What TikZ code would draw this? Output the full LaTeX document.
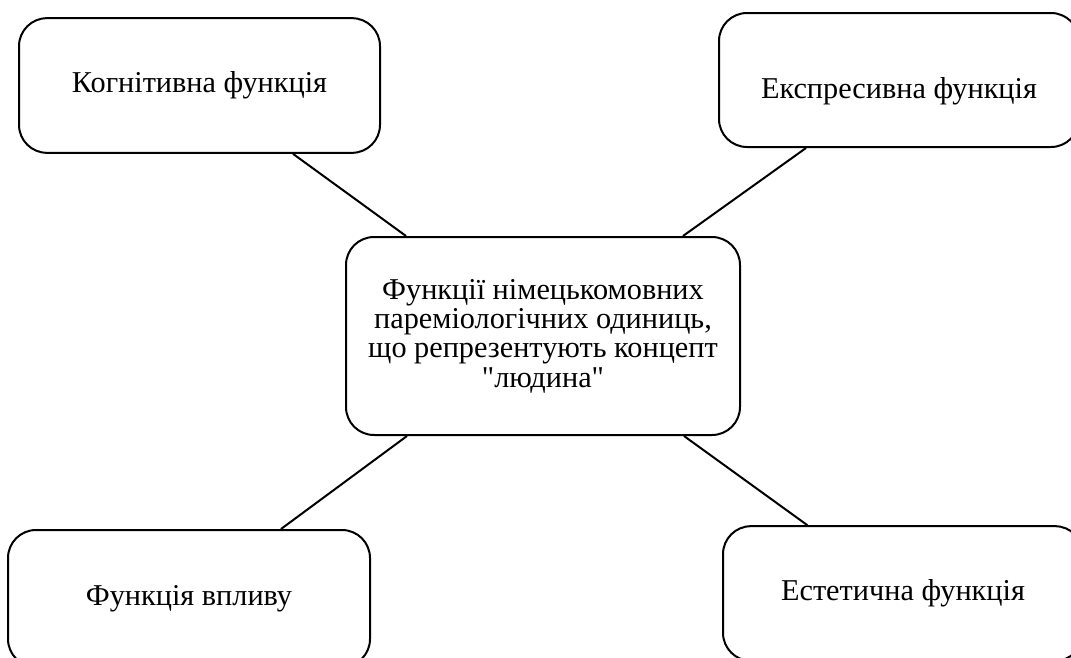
\documentclass[tikz,border=0pt]{standalone}
\usepackage{fontspec}
\setmainfont{Liberation Serif}
\begin{document}
\begin{tikzpicture}[x=0.75pt, y=-0.75pt, line width=1.5pt, font=\fontsize{22.7}{22}\selectfont,
	box/.style={draw, rounded corners=21pt, align=center, minimum width=270pt, minimum height=101pt, inner sep=0pt}]
	\useasboundingbox (0,0) rectangle (1071,657);
	\clip (0,0) rectangle (1071,657);
	\node[box, minimum width=295.5pt, minimum height=148.5pt] (c) at (543,336) {Функції німецькомовних\\пареміологічних одиниць,\\що репрезентують концепт\\\textquotedbl людина\textquotedbl};
	\node[box, minimum width=270.75pt] (tl) at (199.5,85.5) {Когнітивна функція};
	\node[box, minimum height=100.5pt] (tr) at (899,80) {\raisebox{-8.25pt}[\height][\depth]{Експресивна функція}};
	\node[box, minimum width=271.5pt, minimum height=102.75pt] (bl) at (189,598.5) {Функція впливу};
	\node[box] (br) at (903,593.5) {Естетична функція};
	\draw ([xshift=-66pt]tl.south east)--([xshift=45.75pt]c.north west);
	\draw ([xshift=66pt]tr.south west)--([xshift=-43.5pt]c.north east);
	\draw ([xshift=-67.5pt]bl.north east)--([xshift=46.5pt]c.south west);
	\draw ([xshift=64pt]br.north west)--([xshift=-42.75pt]c.south east);
\end{tikzpicture}
\end{document}
